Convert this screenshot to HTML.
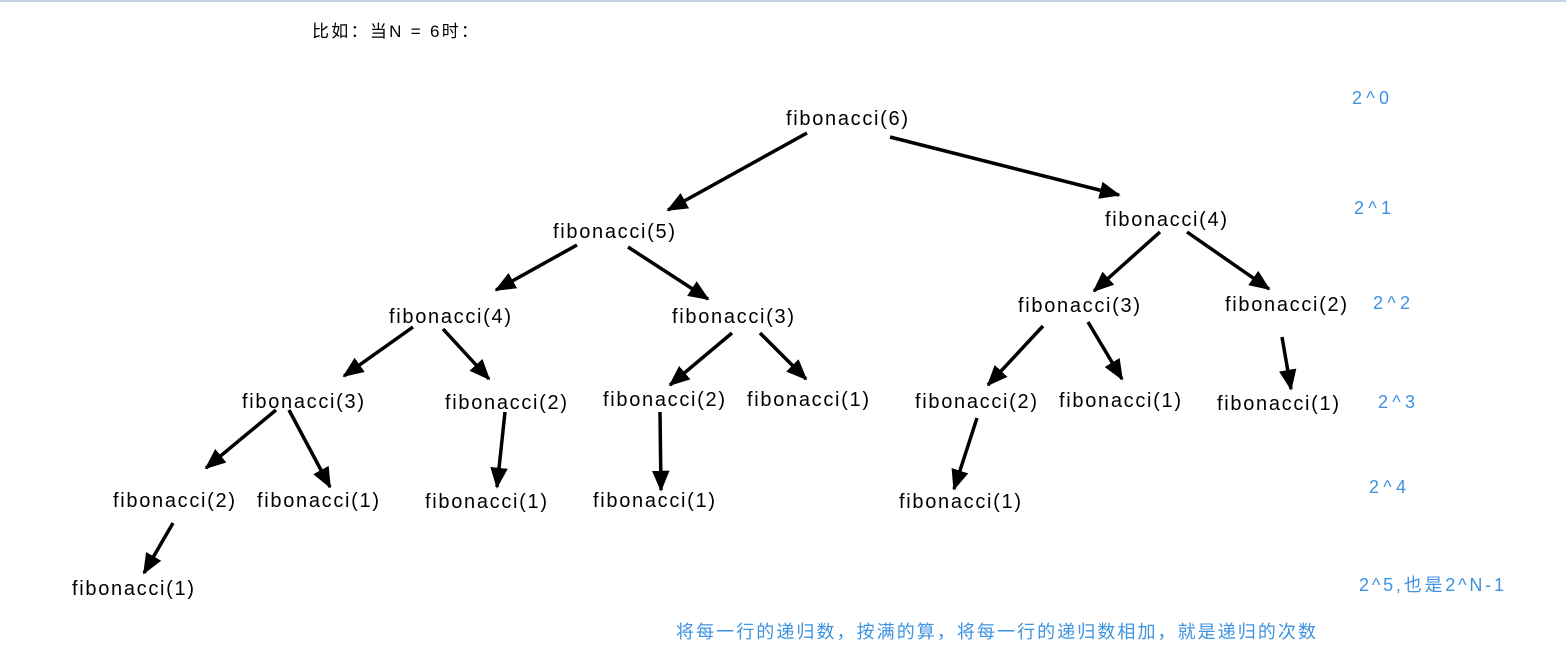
<!DOCTYPE html>
<html><head><meta charset="utf-8"><style>
html,body{margin:0;padding:0;background:#fff;width:1566px;height:655px;overflow:hidden}
svg{display:block}
.n{font-family:"Liberation Sans","Noto Sans CJK SC",sans-serif;font-size:20px;fill:#000}
.b{font-family:"Liberation Sans","Noto Sans CJK SC",sans-serif;font-size:18px;fill:#3d93e0}
</style></head><body>
<svg width="1566" height="655" viewBox="0 0 1566 655">
<defs><marker id="a" markerWidth="6" markerHeight="5" refX="5.5" refY="2.5" orient="auto" markerUnits="strokeWidth"><path d="M0,0 L6,2.5 L0,5 Z" fill="#000"/></marker></defs>
<rect x="0" y="0" width="1566" height="2" fill="#c8d4e3"/>
<text x="312" y="37" style="font-family:'Liberation Sans','Noto Sans CJK SC',sans-serif;font-size:17px" textLength="166">比如：当N = 6时：</text>
<g stroke="#000" stroke-width="3.5" marker-end="url(#a)" fill="none">
<line x1="807" y1="133" x2="668" y2="210"/>
<line x1="890" y1="137" x2="1119" y2="195"/>
<line x1="577" y1="245" x2="496" y2="290"/>
<line x1="628" y1="247" x2="708" y2="299"/>
<line x1="1160" y1="232" x2="1094" y2="291"/>
<line x1="1187" y1="232" x2="1269" y2="289"/>
<line x1="413" y1="327" x2="344" y2="376"/>
<line x1="443" y1="329" x2="489" y2="379"/>
<line x1="732" y1="333" x2="670" y2="385"/>
<line x1="760" y1="333" x2="806" y2="379"/>
<line x1="1043" y1="326" x2="988" y2="385"/>
<line x1="1088" y1="322" x2="1122" y2="379"/>
<line x1="1282" y1="337" x2="1291" y2="389"/>
<line x1="276" y1="410" x2="206" y2="468"/>
<line x1="289" y1="410" x2="330" y2="487"/>
<line x1="505" y1="412" x2="497" y2="487"/>
<line x1="660" y1="412" x2="661" y2="490"/>
<line x1="977" y1="418" x2="954" y2="489"/>
<line x1="173" y1="523" x2="144" y2="573"/>
</g>
<g class="n">
<text x="786" y="125" textLength="122">fibonacci(6)</text>
<text x="553" y="238" textLength="122">fibonacci(5)</text>
<text x="1105" y="226" textLength="122">fibonacci(4)</text>
<text x="389" y="323" textLength="122">fibonacci(4)</text>
<text x="672" y="323" textLength="122">fibonacci(3)</text>
<text x="1018" y="312" textLength="122">fibonacci(3)</text>
<text x="1225" y="311" textLength="122">fibonacci(2)</text>
<text x="242" y="408" textLength="122">fibonacci(3)</text>
<text x="445" y="409" textLength="122">fibonacci(2)</text>
<text x="603" y="406" textLength="122">fibonacci(2)</text>
<text x="747" y="406" textLength="122">fibonacci(1)</text>
<text x="915" y="408" textLength="122">fibonacci(2)</text>
<text x="1059" y="407" textLength="122">fibonacci(1)</text>
<text x="1217" y="410" textLength="122">fibonacci(1)</text>
<text x="113" y="507" textLength="122">fibonacci(2)</text>
<text x="257" y="507" textLength="122">fibonacci(1)</text>
<text x="425" y="508" textLength="122">fibonacci(1)</text>
<text x="593" y="507" textLength="122">fibonacci(1)</text>
<text x="899" y="508" textLength="122">fibonacci(1)</text>
<text x="72" y="595" textLength="122">fibonacci(1)</text>
</g>
<g class="b">
<text x="1352" y="104" textLength="37">2^0</text>
<text x="1354" y="214" textLength="37">2^1</text>
<text x="1373" y="309" textLength="37">2^2</text>
<text x="1378" y="408" textLength="37">2^3</text>
<text x="1369" y="493" textLength="37">2^4</text>
<text x="1359" y="591" textLength="145">2^5,也是2^N-1</text>
<text x="676" y="638" textLength="640">将每一行的递归数，按满的算，将每一行的递归数相加，就是递归的次数</text>
</g>
</svg>
</body></html>
